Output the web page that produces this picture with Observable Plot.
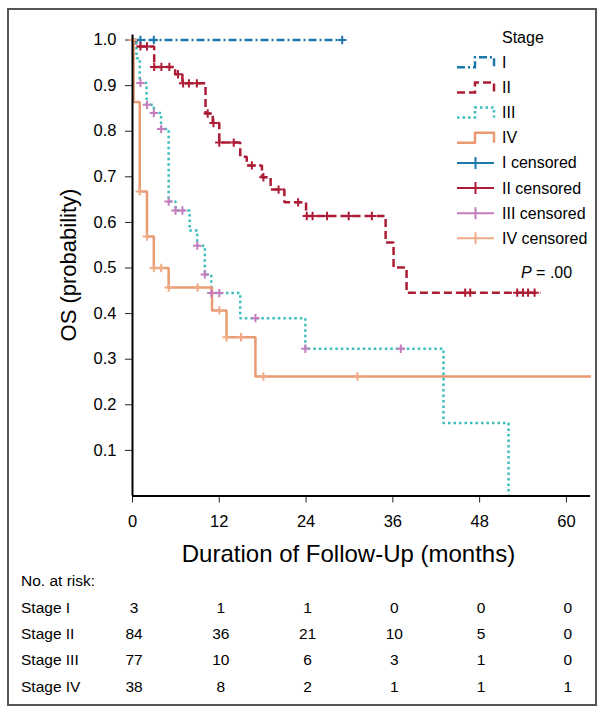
<!DOCTYPE html>
<html><head><meta charset="utf-8">
<script src="https://cdn.jsdelivr.net/npm/d3@7"></script>
<script src="https://cdn.jsdelivr.net/npm/@observablehq/plot@0.6"></script>
<style>
html,body{margin:0;padding:0;background:#fff;}
#wrap{position:relative;width:600px;height:709px;overflow:hidden;font-family:"Liberation Sans",Arial,sans-serif;}
#frame{position:absolute;left:7px;top:8px;width:590px;height:698px;border:2px solid #555;box-sizing:border-box;}
#chart{position:absolute;left:0;top:0;}
#over{position:absolute;left:0;top:0;}
</style></head>
<body>
<div id="wrap"><div id="frame"></div><div id="chart"></div><svg id="over" width="600" height="709"></svg></div>
<script>
// ---------- data ----------
const stages = ["I", "II", "III", "IV"];
const stageColors = ["#1b78ad", "#ad1c35", "#3dbdbd", "#e99a70"];
const censorColors = ["#1b78ad", "#ad1c35", "#c57dbd", "#f0ab86"];
const stageDash = ["8,3,2,3", "8,4", "2.5,3", "none"];

const timeI = [0, 29.0];
const survI = [1, 1];
const censI = [1.1, 2.95, 29.0];

const timeII = [0, 0.5, 3.0, 5.9, 6.9, 10.1, 11.1, 12.0, 14.9, 15.8, 17.9, 19.1, 21.0, 24.0, 35.0, 36.1, 37.9, 56.4];
const survII = [1, 0.986, 0.941, 0.925, 0.905, 0.839, 0.818, 0.775, 0.744, 0.725, 0.699, 0.672, 0.644, 0.614, 0.556, 0.501, 0.446, 0.446];
const censII = [1.1, 2.0, 3.0, 4.0, 5.1, 6.3, 7.0, 7.8, 8.9, 10.4, 11.2, 12.0, 14.0, 16.5, 18.1, 20.2, 22.9, 24.1, 24.9, 26.9, 29.9, 33.1, 46.0, 46.7, 53.2, 54.0, 54.7, 55.6];

const timeIII = [0, 0.55, 1.0, 1.95, 2.95, 3.95, 5.0, 5.95, 7.9, 8.95, 10.0, 10.9, 14.9, 23.9, 43.0, 52.0];
const survIII = [1, 0.960, 0.906, 0.858, 0.840, 0.805, 0.646, 0.626, 0.582, 0.549, 0.486, 0.445, 0.390, 0.323, 0.160, 0];
const censIII = [1.1, 2.0, 2.95, 3.97, 5.0, 5.95, 6.9, 8.95, 10.0, 10.9, 12.0, 17.0, 23.9, 37.1];

const timeIV = [0, 0.15, 1.0, 2.0, 2.95, 5.0, 11.0, 13.0, 17.0, 63.4];
const survIV = [1, 0.864, 0.668, 0.569, 0.500, 0.457, 0.407, 0.348, 0.262, 0.262];
const censIV = [0.05, 1.0, 2.0, 2.95, 3.97, 5.0, 9.0, 12.0, 13.0, 15.0, 18.1, 31.1];

const xTicks = [0, 12, 24, 36, 48, 60];
const yTicks = [0.1, 0.2, 0.3, 0.4, 0.5, 0.6, 0.7, 0.8, 0.9, 1.0];

const riskLabels = ["Stage I", "Stage II", "Stage III", "Stage IV"];
const riskI = [3, 1, 1, 0, 0, 0];
const riskII = [84, 36, 21, 10, 5, 0];
const riskIII = [77, 10, 6, 3, 1, 0];
const riskIV = [38, 8, 2, 1, 1, 1];

const legendLabels = ["I", "II", "III", "IV", "I censored", "II censored", "III censored", "IV censored"];
const pText = ".00";

// ---------- build ----------
const times = [timeI, timeII, timeIII, timeIV];
const survs = [survI, survII, survIII, survIV];
const cens = [censI, censII, censIII, censIV];
const risks = [riskI, riskII, riskIII, riskIV];

function survAt(ts, ss, t) { let v = ss[0]; for (let i = 0; i < ts.length; i++) if (ts[i] <= t) v = ss[i]; return v; }

const plusSymbol = {
  draw(ctx, size) {
    const r = Math.sqrt(size / Math.PI);
    ctx.moveTo(-r, 0); ctx.lineTo(r, 0);
    ctx.moveTo(0, -r); ctx.lineTo(0, r);
  }
};

const marks = [];
stages.forEach((st, k) => {
  const data = times[k].map((t, i) => ({t, s: survs[k][i]}));
  marks.push(Plot.line(data, {x: "t", y: "s", curve: "step-after", stroke: stageColors[k], strokeWidth: 2.5,
    strokeLinecap: "butt", strokeLinejoin: "miter",
    strokeDasharray: stageDash[k] === "none" ? undefined : stageDash[k]}));
});
stages.forEach((st, k) => {
  const data = cens[k].map(t => ({t, s: survAt(times[k], survs[k], t)}));
  marks.push(Plot.dot(data, {x: "t", y: "s", symbol: plusSymbol, r: 4.2, fill: "none", stroke: censorColors[k], strokeWidth: 2, strokeLinecap: "butt"}));
});
marks.push(Plot.ruleX([0], {stroke: "#000", strokeWidth: 2}));
marks.push(Plot.ruleY([0], {stroke: "#000", strokeWidth: 2}));

const plot = Plot.plot({
  width: 600, height: 575,
  marginLeft: 132, marginRight: 10, marginTop: 34.5, marginBottom: 79.5,
  style: {fontFamily: "'Liberation Sans', Arial, sans-serif", fontSize: "16.5px", color: "#222", background: "transparent", overflow: "visible"},
  x: {domain: [0, 63.33], ticks: xTicks, tickSize: 7, tickPadding: 12, label: null, tickFormat: d => String(d)},
  y: {domain: [0, 1.011], ticks: yTicks, tickFormat: d3.format(".1f"), tickSize: 7, tickPadding: 9, label: null},
  marks
});
plot.querySelectorAll("text").forEach(t => t.setAttribute("fill", "#000"));
document.getElementById("chart").appendChild(plot);

const xs = plot.scale("x");
const svg = d3.select("#over");
const ff = "'Liberation Sans', Arial, sans-serif";

// axis titles
svg.append("text").attr("x", 348.5).attr("y", 553).attr("text-anchor", "middle").attr("dominant-baseline", "central")
  .attr("font-family", ff).attr("font-size", 24).text("Duration of Follow-Up (months)");
svg.append("text").attr("transform", "translate(68,265) rotate(-90)").attr("text-anchor", "middle").attr("dominant-baseline", "central")
  .attr("font-family", ff).attr("font-size", 22).text("OS (probability)");

// legend
const lx0 = 457, lx1 = 494, ltx = 502;
svg.append("text").attr("x", ltx).attr("y", 37).attr("dominant-baseline", "central").attr("font-family", ff).attr("font-size", 16).text("Stage");
legendLabels.forEach((lab, i) => {
  const y = 62.3 + i * 25.15;
  if (i < 4) {
    svg.append("path").attr("d", `M${lx0},${y + 5}H475V${y - 5}H${lx1}V${y + 5}`).attr("fill", "none")
      .attr("stroke", stageColors[i]).attr("stroke-width", 2.5)
      .attr("stroke-dasharray", stageDash[i] === "none" ? null : stageDash[i]);
  } else {
    const c = censorColors[i - 4];
    svg.append("path").attr("d", `M${lx0},${y}H${lx1}M475.5,${y - 6}V${y + 6}`).attr("fill", "none").attr("stroke", c).attr("stroke-width", 2);
  }
  svg.append("text").attr("x", ltx).attr("y", y).attr("dominant-baseline", "central").attr("font-family", ff).attr("font-size", 16).text(lab);
});

// P value
const pt = svg.append("text").attr("x", 521).attr("y", 272).attr("dominant-baseline", "central").attr("font-family", ff).attr("font-size", 16);
pt.append("tspan").attr("font-style", "italic").text("P");
pt.append("tspan").text(" = " + pText);

// risk table
svg.append("text").attr("x", 21).attr("y", 580).attr("dominant-baseline", "central").attr("font-family", ff).attr("font-size", 15.5).text("No. at risk:");
riskLabels.forEach((lab, k) => {
  const y = 607 + k * 26.4;
  svg.append("text").attr("x", 21).attr("y", y).attr("dominant-baseline", "central").attr("font-family", ff).attr("font-size", 15.5).text(lab);
  risks[k].forEach((v, j) => {
    svg.append("text").attr("x", xs.apply(xTicks[j]) + 2).attr("y", y).attr("text-anchor", "middle").attr("dominant-baseline", "central")
      .attr("font-family", ff).attr("font-size", 15.5).text(v);
  });
});
</script>
</body></html>
